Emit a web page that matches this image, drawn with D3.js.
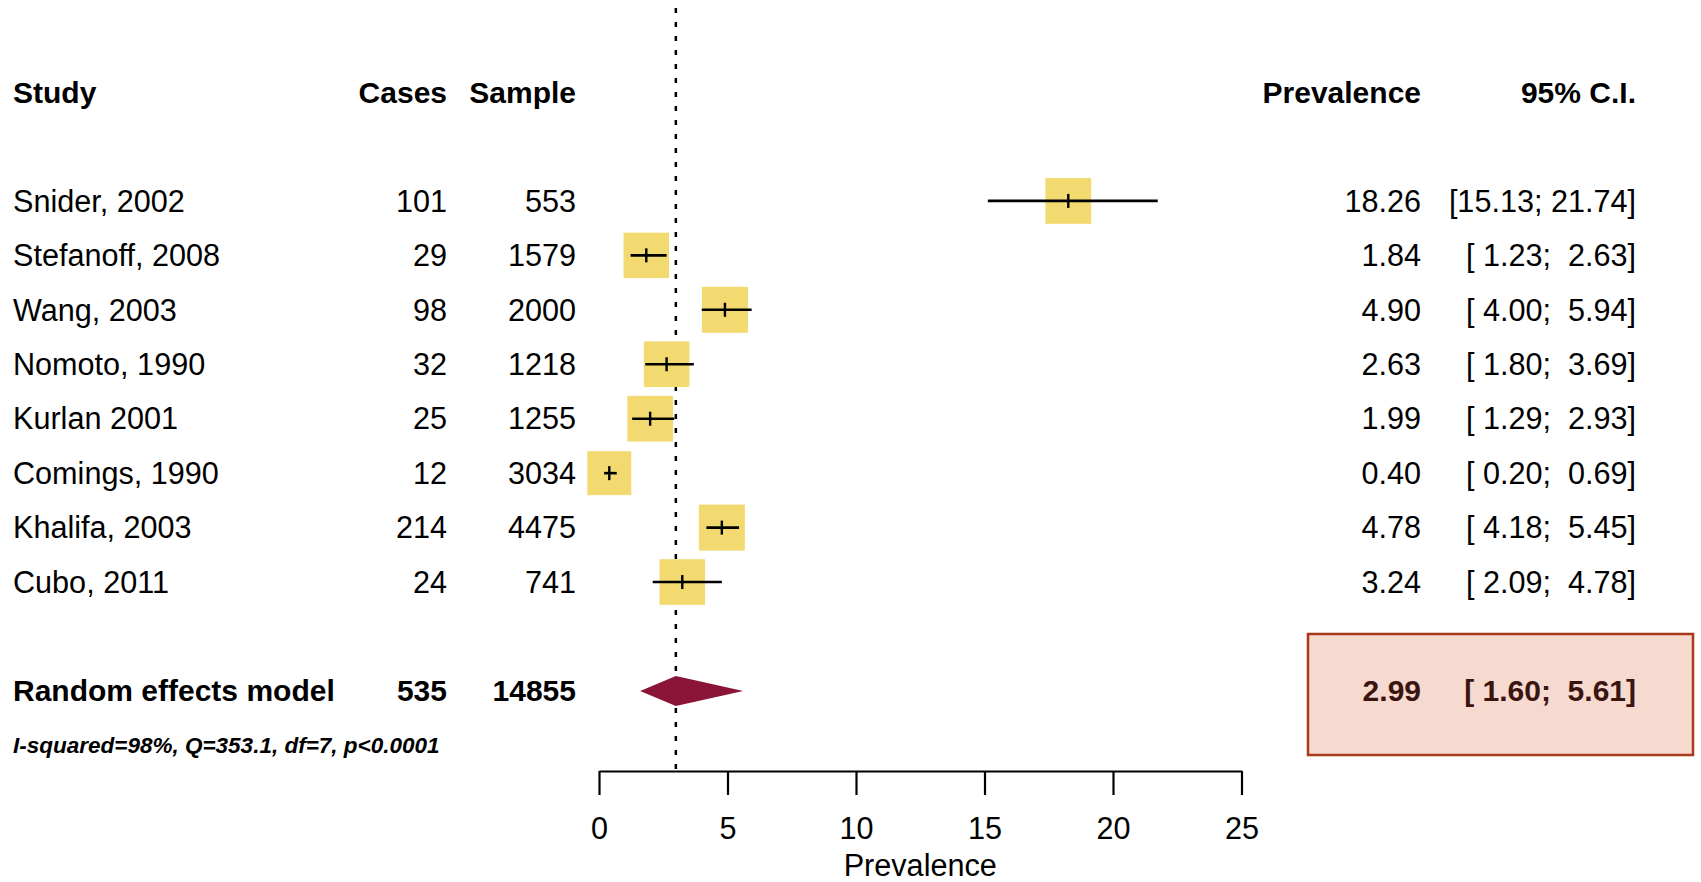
<!DOCTYPE html>
<html>
<head>
<meta charset="utf-8">
<script src="https://cdn.jsdelivr.net/npm/d3@7"></script>
<style>
  html, body { margin: 0; padding: 0; background: #fff; }
  svg text { font-family: "Liberation Sans", Arial, Helvetica, sans-serif; white-space: pre; fill: #000; }
</style>
</head>
<body>
<svg id="chart" width="1701" height="882"></svg>
<script>
// ---------- data ----------
const studies   = ["Snider, 2002", "Stefanoff, 2008", "Wang, 2003", "Nomoto, 1990", "Kurlan 2001", "Comings, 1990", "Khalifa, 2003", "Cubo, 2011"];
const cases     = [101, 29, 98, 32, 25, 12, 214, 24];
const samples   = [553, 1579, 2000, 1218, 1255, 3034, 4475, 741];
const prevalence= [18.26, 1.84, 4.90, 2.63, 1.99, 0.40, 4.78, 3.24];
const ciLower   = [15.13, 1.23, 4.00, 1.80, 1.29, 0.20, 4.18, 2.09];
const ciUpper   = [21.74, 2.63, 5.94, 3.69, 2.93, 0.69, 5.45, 4.78];
const weights   = [12.6, 12.4, 12.7, 12.5, 12.5, 11.6, 12.7, 12.5];
const ciLabels  = ["[15.13; 21.74]", "[ 1.23;  2.63]", "[ 4.00;  5.94]", "[ 1.80;  3.69]", "[ 1.29;  2.93]", "[ 0.20;  0.69]", "[ 4.18;  5.45]", "[ 2.09;  4.78]"];
const prevLabels= ["18.26", "1.84", "4.90", "2.63", "1.99", "0.40", "4.78", "3.24"];
const summaryLabel = "Random effects model";
const summaryCases = 535;
const summarySample = 14855;
const summaryEst = 2.99, summaryLower = 1.60, summaryUpper = 5.61;
const summaryPrevLabel = "2.99";
const summaryCILabel = "[ 1.60;  5.61]";
const hetLabel = "I-squared=98%, Q=353.1, df=7, p<0.0001";
const headers = ["Study", "Cases", "Sample", "Prevalence", "95% C.I."];
const xTicks = [0, 5, 10, 15, 20, 25];
const xTitle = "Prevalence";

// ---------- layout ----------
const svg = d3.select("#chart");
const fs = 30.6;
const fsb = 30;
const x = d3.scaleLinear().domain([0, 25]).range([599, 1241.5]);
const row = d3.scaleLinear().domain([0, 12]).range([92, 92 + 12 * 54.45]);
const studyRow = i => i + 2;
const summaryRow = 11, hetRow = 12;
const axisY = 771;
const colStudy = 13, colCases = 447, colSample = 576, colPrev = 1421, colCI = 1636;
const side = d3.scaleSqrt().domain([0, 12.7]).range([0, 46]);

const yellow = "#F2DA70", maroon = "#8A1538";

// dashed reference line at summary estimate
svg.append("line")
  .attr("x1", x(summaryEst)).attr("x2", x(summaryEst))
  .attr("y1", 8).attr("y2", axisY)
  .attr("stroke", "#000").attr("stroke-width", 2.5)
  .attr("stroke-dasharray", "5,9");

// header
const hdr = svg.append("g").attr("font-weight", "bold").attr("font-size", fsb);
const hdrX = [colStudy, colCases, colSample, colPrev, colCI];
const hdrAnchor = ["start", "end", "end", "end", "end"];
headers.forEach((h, i) => {
  hdr.append("text").attr("x", hdrX[i]).attr("y", row(0)).attr("dy", "0.35em")
    .attr("text-anchor", hdrAnchor[i]).attr("font-weight", "bold").text(h);
});

// study rows
const g = svg.append("g").attr("font-size", fs);
studies.forEach((s, i) => {
  const y = row(studyRow(i));
  g.append("text").attr("x", colStudy).attr("y", y).attr("dy", "0.35em").text(s);
  g.append("text").attr("x", colCases).attr("y", y).attr("dy", "0.35em").attr("text-anchor", "end").text(cases[i]);
  g.append("text").attr("x", colSample).attr("y", y).attr("dy", "0.35em").attr("text-anchor", "end").text(samples[i]);
  g.append("text").attr("x", colPrev).attr("y", y).attr("dy", "0.35em").attr("text-anchor", "end").text(prevLabels[i]);
  g.append("text").attr("x", colCI).attr("y", y).attr("dy", "0.35em").attr("text-anchor", "end").text(ciLabels[i]);

  const sz = side(weights[i]);
  g.append("rect")
    .attr("x", x(prevalence[i]) - sz / 2).attr("y", y - sz / 2)
    .attr("width", sz).attr("height", sz)
    .attr("fill", yellow);
  g.append("line")
    .attr("x1", x(ciLower[i])).attr("x2", x(ciUpper[i]))
    .attr("y1", y).attr("y2", y)
    .attr("stroke", "#000").attr("stroke-width", 2.6);
  g.append("line")
    .attr("x1", x(prevalence[i])).attr("x2", x(prevalence[i]))
    .attr("y1", y - 7).attr("y2", y + 7)
    .attr("stroke", "#000").attr("stroke-width", 2.4);
});

// summary row
const ys = row(summaryRow);
svg.append("rect")
  .attr("x", 1308).attr("y", 634).attr("width", 385).attr("height", 121)
  .attr("fill", "#F6DACF").attr("stroke", "#A8391B").attr("stroke-width", 2.5);

const sg = svg.append("g").attr("font-size", fsb).attr("font-weight", "bold");
sg.append("text").attr("x", colStudy).attr("y", ys).attr("dy", "0.35em").text(summaryLabel);
sg.append("text").attr("x", colCases).attr("y", ys).attr("dy", "0.35em").attr("text-anchor", "end").text(summaryCases);
sg.append("text").attr("x", colSample).attr("y", ys).attr("dy", "0.35em").attr("text-anchor", "end").text(summarySample);
sg.append("text").attr("x", colPrev).attr("y", ys).attr("dy", "0.35em").attr("text-anchor", "end")
  .style("fill", "#3A1510").text(summaryPrevLabel);
sg.append("text").attr("x", colCI).attr("y", ys).attr("dy", "0.35em").attr("text-anchor", "end")
  .style("fill", "#3A1510").text(summaryCILabel);

const dh = 15;
svg.append("path")
  .attr("d", `M${x(summaryLower)},${ys} L${x(summaryEst)},${ys - dh} L${x(summaryUpper)},${ys} L${x(summaryEst)},${ys + dh} Z`)
  .attr("fill", maroon);

// heterogeneity
svg.append("text").attr("x", colStudy).attr("y", row(hetRow)).attr("dy", "0.35em")
  .attr("font-size", 22.5).attr("font-weight", "bold").attr("font-style", "italic").text(hetLabel);

// axis
const axis = d3.axisBottom(x).tickValues(xTicks).tickFormat(d3.format("d"))
  .tickSizeInner(24).tickSizeOuter(0).tickPadding(22);
const ag = svg.append("g").attr("transform", `translate(0,${axisY})`).call(axis);
ag.select(".domain").attr("stroke", "#000").attr("stroke-width", 2.2);
ag.selectAll(".tick line").attr("stroke", "#000").attr("stroke-width", 2.2);
ag.selectAll(".tick text").attr("font-size", fs).attr("font-family", "Liberation Sans, Arial, sans-serif").style("fill", "#000");

svg.append("text").attr("x", (x(0) + x(25)) / 2).attr("y", 876)
  .attr("text-anchor", "middle").attr("font-size", fs).text(xTitle);
</script>
</body>
</html>
